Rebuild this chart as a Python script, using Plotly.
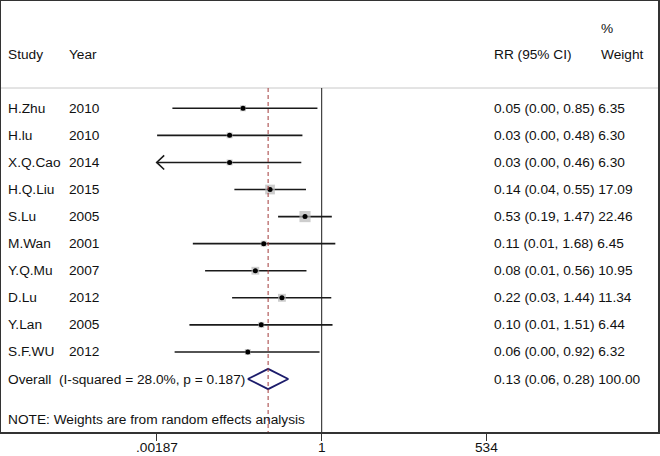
"""Forest plot: RR (95% CI) by study, random effects."""

import math

import plotly.graph_objects as go

# ---- data ----
studies = ["H.Zhu", "H.lu", "X.Q.Cao", "H.Q.Liu", "S.Lu",
           "M.Wan", "Y.Q.Mu", "D.Lu", "Y.Lan", "S.F.WU"]
years = ["2010", "2010", "2014", "2015", "2005",
         "2001", "2007", "2012", "2005", "2012"]
rr = [0.05, 0.03, 0.03, 0.14, 0.53, 0.11, 0.08, 0.22, 0.10, 0.06]
ci_low = [0.0034, 0.0019, 0.0012, 0.036, 0.19, 0.0074, 0.0118, 0.033, 0.0065, 0.0037]
ci_high = [0.85, 0.48, 0.46, 0.55, 1.47, 1.68, 0.56, 1.44, 1.51, 0.92]
weights = [6.35, 6.30, 6.30, 17.09, 22.46, 6.45, 10.95, 11.34, 6.44, 6.32]

overall_rr = 0.13
overall_low = 0.06
overall_high = 0.28
overall_label = "Overall&nbsp; (I-squared = 28.0%, p = 0.187)"
note = "NOTE: Weights are from random effects analysis"

tick_vals = [0.00187, 1, 534]
tick_text = [".00187", "1", "534"]
X_MIN = 0.00187  # CIs below this are clipped with an arrow

FONT = "Liberation Sans, Arial, sans-serif"
FS = 13.7
TXT = "#111111"
Y_TOP = -3.964
Y_BOTTOM = 11.958
SEP = -0.75


def px_to_paper(px):
    """Horizontal pixel in the 660px canvas -> paper coordinate."""
    return (px - 1) / 657


rows = list(range(len(studies)))
overall_row = len(studies)

fig = go.Figure()

# confidence interval lines (clipped at axis minimum)
for i in rows:
    lo = max(ci_low[i], X_MIN)
    fig.add_trace(go.Scatter(
        x=[lo, ci_high[i]], y=[i, i], mode="lines",
        line=dict(color="#1a1a1a", width=1.6), hoverinfo="skip", showlegend=False,
    ))
    if ci_low[i] < X_MIN:
        fig.add_trace(go.Scatter(
            x=[lo * 1.33, lo, lo * 1.33], y=[i - 0.26, i, i + 0.26], mode="lines",
            line=dict(color="#1a1a1a", width=1.6), hoverinfo="skip", showlegend=False,
        ))

# weight boxes
fig.add_trace(go.Scatter(
    x=rr, y=rows, mode="markers",
    marker=dict(symbol="square", color="#b8b8b8",
                size=[2.35 * w ** 0.5 for w in weights], line=dict(width=0)),
    hoverinfo="skip", showlegend=False,
))
# point estimates
fig.add_trace(go.Scatter(
    x=rr, y=rows, mode="markers",
    marker=dict(symbol="circle", color="#000000", size=5),
    customdata=studies,
    hovertemplate="%{customdata}<br>RR: %{x:.2f}<extra></extra>",
    showlegend=False,
))

# overall diamond
fig.add_trace(go.Scatter(
    x=[overall_low, overall_rr, overall_high, overall_rr, overall_low],
    y=[overall_row, overall_row - 0.375, overall_row, overall_row + 0.375, overall_row],
    mode="lines", line=dict(color="#1c1c6b", width=1.8),
    hoverinfo="skip", showlegend=False,
))

shapes = [
    # header separator
    dict(type="line", xref="paper", yref="y", x0=0, x1=1, y0=SEP, y1=SEP,
         line=dict(color="#c8c8c8", width=1)),
    # line of no effect
    dict(type="line", xref="x", yref="y", x0=1, x1=1, y0=SEP, y1=Y_BOTTOM,
         line=dict(color="#1a1a1a", width=1)),
    # overall estimate
    dict(type="line", xref="x", yref="y", x0=overall_rr, x1=overall_rr, y0=SEP, y1=Y_BOTTOM,
         line=dict(color="#a33a3a", width=1, dash="4px,3px")),
]

ann_font = dict(family=FONT, size=FS, color=TXT)
annotations = []


def add_text(text, px, row):
    annotations.append(dict(
        text=text, xref="paper", yref="y", x=px_to_paper(px), y=row,
        xanchor="left", yanchor="middle", showarrow=False, font=ann_font,
    ))


add_text("Study", 6, -2)
add_text("Year", 67, -2)
add_text("RR (95% CI)", 492, -2)
add_text("%", 599, -2.95)
add_text("Weight", 599, -2)

for i in rows:
    add_text(studies[i], 6, i)
    add_text(years[i], 67, i)
    add_text(f"{rr[i]:.2f} ({ci_low[i]:.2f}, {ci_high[i]:.2f}) {weights[i]:.2f}", 492, i)

add_text(overall_label, 6, overall_row)
add_text(f"{overall_rr:.2f} ({overall_low:.2f}, {overall_high:.2f}) 100.00", 492, overall_row)
add_text(note, 6, 11.5)

# x tick labels placed just under the tick marks
for v, t in zip(tick_vals, tick_text):
    annotations.append(dict(
        text=t, xref="x", yref="paper", x=math.log10(v), y=-0.0371,
        xanchor="center", yanchor="middle", showarrow=False, borderpad=0,
        font=ann_font,
    ))

fig.update_layout(
    width=660, height=456,
    margin=dict(l=1, r=2, t=1, b=24),
    paper_bgcolor="white", plot_bgcolor="white",
    font=dict(family=FONT, size=FS, color=TXT),
    xaxis=dict(
        type="log", range=[-5.3026, 5.5606],
        tickvals=tick_vals, showticklabels=False,
        ticks="outside", ticklen=7, tickwidth=1, tickcolor="#333333",
        automargin=False,
        showgrid=False, zeroline=False,
        showline=True, mirror=True, linecolor="#333333", linewidth=2,
    ),
    yaxis=dict(
        range=[Y_BOTTOM, Y_TOP], showticklabels=False, ticks="",
        showgrid=False, zeroline=False, automargin=False,
        showline=True, mirror=True, linecolor="#333333", linewidth=2,
    ),
    shapes=shapes,
    annotations=annotations,
)

# the page's default 8px body margin would push the figure off the window
fig.write_html(
    "out.html",
    config={"displayModeBar": False},
    post_script="document.body.style.margin='0';",
)
